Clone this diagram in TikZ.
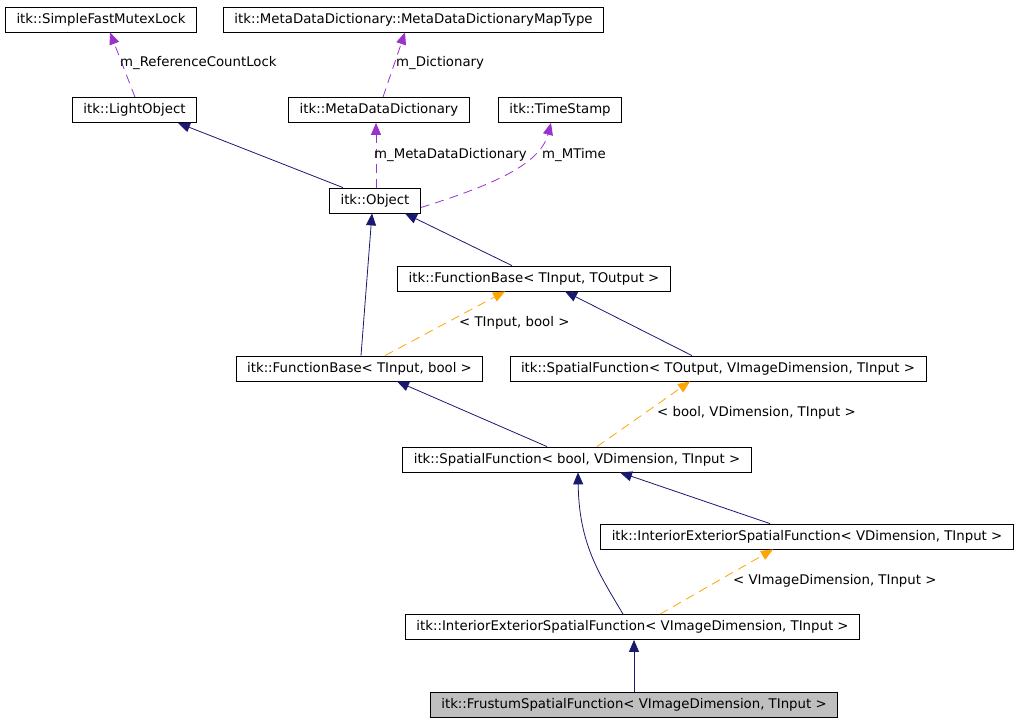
\documentclass[tikz,border=0pt]{standalone}
\usepackage{fontspec}
\setmainfont{DejaVu Sans}
\usepackage{tikz}
\usetikzlibrary{arrows.meta,calc,positioning}
\definecolor{inhc}{RGB}{25,25,112}
\definecolor{usec}{RGB}{154,50,205}
\definecolor{tplc}{RGB}{255,165,0}
\tikzset{
  cls/.style={draw=black,fill=white,line width=0.8pt,font=\fontsize{13.3}{15}\selectfont,
    inner xsep=11pt,inner ysep=0pt,minimum height=25pt},
  lbl/.style={font=\fontsize{13.3}{15}\selectfont,anchor=west,inner sep=0pt},
  inh/.style={inhc,line width=0.8pt,-{Triangle[length=12pt,width=10pt]}},
  usg/.style={usec,line width=0.8pt,dash pattern=on 9pt off 6pt,-{Triangle[length=12pt,width=10pt]}},
  tpl/.style={tplc,line width=0.8pt,dash pattern=on 9pt off 6pt,-{Triangle[length=12pt,width=10pt]}}
}
\begin{document}
\begin{tikzpicture}[x=1pt,y=-1pt]
  \useasboundingbox (0,0) rectangle (1020,723);
  % classes
  \node[cls] (sfml) at (101,19.5) {itk::SimpleFastMutexLock};
  \node[cls] (mapT) at (413.5,19.5) {itk::MetaDataDictionary::MetaDataDictionaryMapType};
  \node[cls] (light) at (134.5,110) {itk::LightObject};
  \node[cls] (mdd) at (379,110) {itk::MetaDataDictionary};
  \node[cls] (ts) at (560,110) {itk::TimeStamp};
  \node[cls] (obj) at (375,200.5) {itk::Object};
  \node[cls] (fbTO) at (534,278.5) {itk::FunctionBase< TInput, TOutput >};
  \node[cls] (fbB) at (359.5,368.5) {itk::FunctionBase< TInput, bool >};
  \node[cls] (sfTO) at (718,368.5) {itk::SpatialFunction< TOutput, VImageDimension, TInput >};
  \node[cls] (sfB) at (577,459.5) {itk::SpatialFunction< bool, VDimension, TInput >};
  \node[cls] (ieV) at (807,536.5) {itk::InteriorExteriorSpatialFunction< VDimension, TInput >};
  \node[cls] (ieVI) at (632.5,627) {itk::InteriorExteriorSpatialFunction< VImageDimension, TInput >};
  \node[cls,fill=black!25] (fr) at (634,704.5) {itk::FrustumSpatialFunction< VImageDimension, TInput >};
  % members
  \draw[usg] ([xshift=0.5pt]light.north) -- ([xshift=9pt]sfml.south);
  \draw[usg] ([xshift=4pt]mdd.north) -- ([xshift=-8.5pt]mapT.south);
  \draw[usg] ([xshift=1pt]obj.north) -- ([xshift=-3pt]mdd.south);
  \draw[usg] ([yshift=-7pt]obj.east) .. controls (490,186) and (540,165) .. ([xshift=-9pt]ts.south);
  \node[lbl] (lRef) at (120,63) {m\_ReferenceCountLock};
  \node[lbl] (lDic) at (396,63) {m\_Dictionary};
  \node[lbl] (lMdd) at (374,155) {m\_MetaDataDictionary};
  \node[lbl] (lTim) at (542,155) {m\_MTime};
  % inheritance
  \draw[inh] ([xshift=-32pt]obj.north) -- ([xshift=43.5pt]light.south);
  \draw[inh] ([xshift=-22pt]fbTO.north) -- ([xshift=30pt]obj.south);
  \draw[inh] ([xshift=1.5pt]fbB.north) -- ([xshift=-3pt]obj.south);
  \draw[inh] ([xshift=-26pt]sfTO.north) -- ([xshift=31pt]fbTO.south);
  \draw[inh] ([xshift=-30pt]sfB.north) -- ([xshift=37.5pt]fbB.south);
  \draw[inh] ([xshift=-37pt]ieV.north) -- ([xshift=43pt]sfB.south);
  \draw[inh] ([xshift=-9.5pt]ieVI.north) .. controls (600,575) and (579,545) .. ([xshift=1pt]sfB.south);
  \draw[inh] (fr.north) -- (fr.north |- ieVI.south);
  % template instances
  \draw[tpl] ([xshift=25.5pt]fbB.north) -- ([xshift=-29pt]fbTO.south);
  \draw[tpl] ([xshift=20pt]sfB.north) -- ([xshift=-28pt]sfTO.south);
  \draw[tpl] ([xshift=27.5pt]ieVI.north) -- ([xshift=-34pt]ieV.south);
  \node[lbl] (lFb) at (459,323) {< TInput, bool >};
  \node[lbl] (lSf) at (657,413) {< bool, VDimension, TInput >};
  \node[lbl] (lIe) at (733,581) {< VImageDimension, TInput >};
\end{tikzpicture}
\end{document}
